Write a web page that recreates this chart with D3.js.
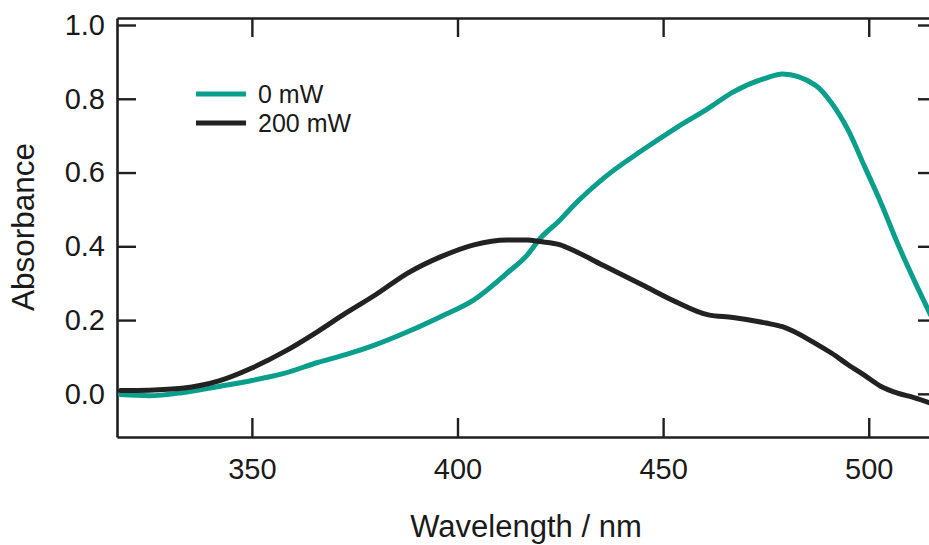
<!DOCTYPE html>
<html>
<head>
<meta charset="utf-8">
<script src="https://cdn.jsdelivr.net/npm/d3@7"></script>
<style>
  html, body { margin: 0; padding: 0; background: #fff; }
  svg { display: block; overflow: hidden; }
  text { font-family: "Liberation Sans", Arial, Helvetica, sans-serif; fill: #1a1a1a; }
</style>
</head>
<body>
<svg id="chart" width="929" height="545"></svg>
<script>
// Absorption spectra, wavelength in nm
const wavelengths = [318, 325, 333, 342, 350, 358, 366, 373, 380, 388, 396, 404, 412, 417, 420, 425, 428, 436, 445, 453, 461, 467, 475, 479, 487, 491, 495, 499, 503, 507, 511, 515];
const abs0mW   = [-0.002, -0.005, 0.003, 0.020, 0.036, 0.056, 0.085, 0.107, 0.133, 0.169, 0.210, 0.255, 0.327, 0.377, 0.420, 0.472, 0.508, 0.589, 0.661, 0.720, 0.774, 0.818, 0.856, 0.867, 0.837, 0.788, 0.715, 0.616, 0.517, 0.408, 0.309, 0.215];
const abs200mW = [0.009, 0.010, 0.015, 0.035, 0.070, 0.115, 0.169, 0.220, 0.268, 0.328, 0.372, 0.404, 0.417, 0.417, 0.413, 0.404, 0.390, 0.345, 0.295, 0.250, 0.214, 0.207, 0.192, 0.182, 0.137, 0.110, 0.079, 0.050, 0.020, 0.002, -0.010, -0.025];

const seriesNames = ["0 mW", "200 mW"];
const seriesColors = ["#0a9e8c", "#222222"];
const xTicks = [350, 400, 450, 500];
const yTicks = [0.0, 0.2, 0.4, 0.6, 0.8, 1.0];

const svg = d3.select("#chart");
const plotLeft = 117, plotRight = 937, plotTop = 18, plotBottom = 437;
const tickLen = 19;

const x = d3.scaleLinear().domain([317.2, 516.6]).range([plotLeft, plotRight]);
const y = d3.scaleLinear().domain([-0.117, 1.019]).range([plotBottom, plotTop]);

const axisColor = "#1f1f1f";

// Frame: four axes with inward ticks
function styleAxis(g) {
  g.select(".domain").attr("stroke", axisColor).attr("stroke-width", 2.6);
  g.selectAll(".tick line").attr("stroke", axisColor).attr("stroke-width", 2.4);
}

svg.append("g")
  .attr("transform", `translate(0,${plotBottom})`)
  .call(d3.axisBottom(x).tickValues(xTicks).tickSizeInner(-tickLen).tickSizeOuter(0).tickPadding(21).tickFormat(d3.format("d")))
  .call(styleAxis)
  .call(g => g.selectAll("text").attr("font-size", 29).attr("fill", "#1a1a1a"));

svg.append("g")
  .attr("transform", `translate(0,${plotTop})`)
  .call(d3.axisTop(x).tickValues(xTicks).tickSizeInner(-tickLen).tickSizeOuter(0).tickFormat(""))
  .call(styleAxis);

svg.append("g")
  .attr("transform", `translate(${plotLeft},0)`)
  .call(d3.axisLeft(y).tickValues(yTicks).tickSizeInner(-tickLen).tickSizeOuter(0).tickPadding(12).tickFormat(d3.format(".1f")))
  .call(styleAxis)
  .call(g => g.selectAll("text").attr("font-size", 29).attr("fill", "#1a1a1a"));

svg.append("g")
  .attr("transform", `translate(${plotRight},0)`)
  .call(d3.axisRight(y).tickValues(yTicks).tickSizeInner(-tickLen).tickSizeOuter(0).tickFormat(""))
  .call(styleAxis);

// Spectra
svg.append("clipPath").attr("id", "plot-clip")
  .append("rect").attr("x", plotLeft).attr("y", plotTop).attr("width", plotRight - plotLeft).attr("height", plotBottom - plotTop);

const line = d3.line()
  .x(d => x(d[0]))
  .y(d => y(d[1]))
  .curve(d3.curveMonotoneX);

const series = [abs0mW, abs200mW];
series.forEach((vals, i) => {
  svg.append("path")
    .datum(wavelengths.map((w, k) => [w, vals[k]]))
    .attr("clip-path", "url(#plot-clip)")
    .attr("fill", "none")
    .attr("stroke", seriesColors[i])
    .attr("stroke-width", 5)
    .attr("stroke-linejoin", "round")
    .attr("stroke-linecap", "round")
    .attr("d", line);
});

// Legend
const legend = svg.append("g");
seriesNames.forEach((name, i) => {
  const ly = 94 + i * 29;
  legend.append("line")
    .attr("x1", 196).attr("x2", 246)
    .attr("y1", ly).attr("y2", ly)
    .attr("stroke", seriesColors[i]).attr("stroke-width", 5);
  legend.append("text")
    .attr("x", 258).attr("y", ly + 9)
    .attr("font-size", 25)
    .text(name);
});

// Axis titles
svg.append("text")
  .attr("x", 526).attr("y", 537)
  .attr("text-anchor", "middle")
  .attr("font-size", 31)
  .text("Wavelength / nm");

svg.append("text")
  .attr("transform", "translate(34,227) rotate(-90)")
  .attr("text-anchor", "middle")
  .attr("font-size", 31.5)
  .text("Absorbance");
</script>
</body>
</html>
